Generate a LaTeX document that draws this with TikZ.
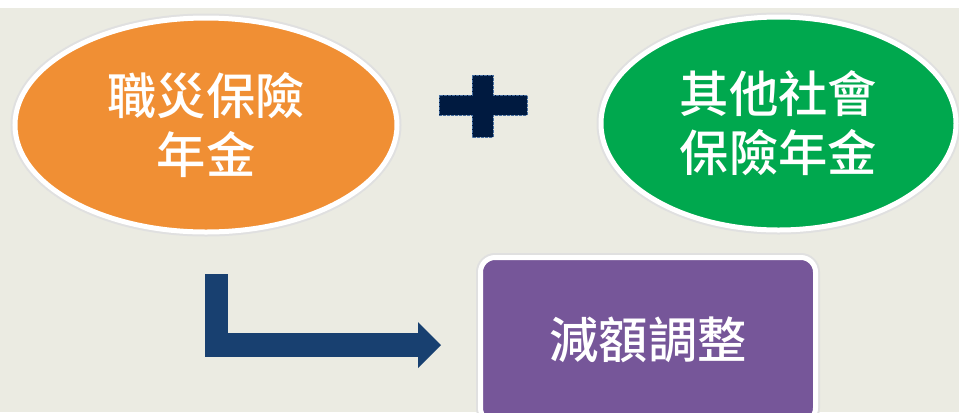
\documentclass[tikz,border=0pt]{standalone}
\usepackage{fontspec}
\newfontfamily\cjk{Noto Sans CJK TC}[BoldFont=* Medium]
\usepackage{tikz}
\usetikzlibrary{shapes.geometric,arrows.meta}

\definecolor{bgbeige}{RGB}{235,235,226}
\definecolor{pensionorange}{RGB}{240,143,52}
\definecolor{othergreen}{RGB}{0,168,78}
\definecolor{cutpurple}{RGB}{118,86,153}
\definecolor{arrownavy}{RGB}{24,64,112}
\definecolor{plusnavy}{RGB}{0,26,64}
\definecolor{plusedge}{RGB}{70,110,160}

\tikzset{
  bubble/.style={ellipse, draw=white, line width=3.75pt, text=white, align=center,
    font=\cjk\bfseries\fontsize{37}{44}\selectfont,
    preaction={draw=black!12, line width=6.75pt}},
  cutbox/.style={rectangle, rounded corners=11pt, draw=white, line width=3.75pt, text=white,
    font=\cjk\bfseries\fontsize{37}{44}\selectfont,
    preaction={draw=black!12, line width=6.75pt}},
  bentarrow/.style={draw=arrownavy, line width=17.6pt,
    -{Triangle[length=17.25pt,width=34.5pt,line width=0pt]}}
}

\begin{document}
\begin{tikzpicture}[x=0.75pt,y=0.75pt,yscale=-1,xscale=1]
\useasboundingbox (0,0) rectangle (959,412);

%Background
\fill [white] (0,0) rectangle (959,8);
\fill [bgbeige] (0,8) rectangle (959,412);

%Shape: Ellipse [orange]
\draw (206,125) node [bubble, fill=pensionorange, minimum width=286.5pt, minimum height=160.5pt] (disaster) {職災保險\\年金};
%Shape: Ellipse [green]
\draw (778.5,123.5) node [bubble, fill=othergreen, minimum width=266.25pt, minimum height=159.75pt] (other) {其他社會\\保險年金};

%Shape: Plus
\filldraw [fill=plusnavy, draw=plusedge, line width=0.75pt, dash pattern={on 2pt off 1pt}]
  (472,75) -- (493,75) -- (493,95) -- (527,95) -- (527,115) -- (493,115) -- (493,137)
  -- (472,137) -- (472,115) -- (439,115) -- (439,95) -- (472,95) -- cycle ;

%Shape: Rounded Rect [purple]
\draw (648,340) node [cutbox, fill=cutpurple, minimum width=251.25pt, minimum height=123.75pt] (reduce) {減額調整};

%Bent Arrow
\coordinate (armtop) at (216.5,274);
\coordinate (armtip) at ([xshift=-27.75pt]reduce.west |- 0,345);
\draw [bentarrow] (armtop) |- (armtip) ;

\end{tikzpicture}
\end{document}
